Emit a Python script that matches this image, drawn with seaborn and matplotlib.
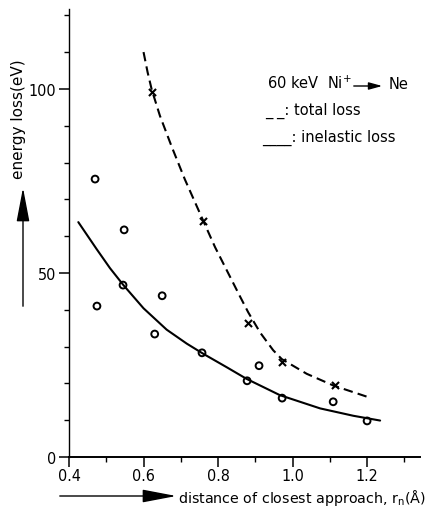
import matplotlib
matplotlib.use("Agg")
import matplotlib.pyplot as plt
import seaborn as sns

# measured points (circles: inelastic loss, crosses: total loss)
circle_x = [0.47, 0.475, 0.545, 0.548, 0.63, 0.65, 0.757, 0.878, 0.91, 0.972, 1.109, 1.20]
circle_y = [75.5, 41.0, 46.7, 61.7, 33.4, 43.8, 28.3, 20.7, 24.8, 16.0, 15.0, 9.8]
cross_x = [0.622, 0.760, 0.881, 0.972, 1.114]
cross_y = [99.2, 64.0, 36.4, 25.8, 19.6]

# curves
total_x = [0.600, 0.611, 0.622, 0.644, 0.676, 0.711, 0.761, 0.792, 0.837, 0.859,
           0.881, 0.913, 0.948, 0.971, 1.038, 1.110, 1.199]
total_y = [110.0, 104.5, 99.8, 92.7, 84.2, 75.4, 64.0, 57.0, 48.0, 43.6,
           39.3, 33.8, 29.0, 26.6, 22.6, 19.4, 16.4]
inel_x = [0.425, 0.474, 0.510, 0.546, 0.600, 0.662, 0.716, 0.761, 0.823, 0.877,
          0.966, 1.074, 1.163, 1.235]
inel_y = [63.8, 56.5, 51.3, 46.7, 40.4, 34.6, 30.8, 28.0, 24.4, 21.2,
          16.8, 13.2, 11.2, 9.9]

xticks = [0.4, 0.6, 0.8, 1.0, 1.2]
xminor = [0.5, 0.7, 0.9, 1.1, 1.3]
yticks = [0, 50, 100]
yminor = [10, 20, 30, 40, 60, 70, 80, 90, 110, 120]

sns.set_style("ticks", {"axes.edgecolor": "black", "text.color": "black",
                        "xtick.color": "black", "ytick.color": "black",
                        "axes.labelcolor": "black"})
plt.rcParams['font.family'] = ['DejaVu Sans']

W, H = 440, 510


def fx(px):
    return px / W


def fy(py):
    return 1 - py / H


fig = plt.figure(figsize=(4.4, 5.1), dpi=100)
ax = fig.add_axes([fx(69), fy(458), (420 - 69) / W, (458 - 10) / H])

sns.lineplot(x=total_x, y=total_y, ax=ax, color='black', lw=1.5,
             linestyle=(0, (4.5, 2.5)))
sns.lineplot(x=inel_x, y=inel_y, ax=ax, color='black', lw=1.5)
sns.scatterplot(x=circle_x, y=circle_y, ax=ax, marker='o', s=24,
                facecolor='none', edgecolor='black', linewidth=1.4)
sns.scatterplot(x=cross_x, y=cross_y, ax=ax, marker='x', s=26,
                color='black', linewidth=1.5)

ax.set_xlim(0.4, 1.342)
ax.set_ylim(0, 121.7)
ax.set_xticks(xticks)
ax.set_xticks(xminor, minor=True)
ax.set_yticks(yticks)
ax.set_yticks(yminor, minor=True)
ax.set_xticklabels([f"{v:.1f}" for v in xticks], fontsize=11.5, fontstretch='condensed')
ax.set_yticklabels([str(v) for v in yticks], fontsize=11.5, fontstretch='condensed')

for s in ['top', 'right']:
    ax.spines[s].set_visible(False)
ax.spines['left'].set_linewidth(1.0)
ax.spines['bottom'].set_linewidth(1.4)
ax.tick_params(axis='x', which='major', direction='out', length=7, width=1.1, pad=1)
ax.tick_params(axis='x', which='minor', direction='out', length=3.5, width=1.0)
ax.tick_params(axis='y', which='major', direction='out', length=7, width=1.1, pad=2)
ax.tick_params(axis='y', which='minor', direction='out', length=3.5, width=1.0)

# legend-like annotation block
fig.text(fx(267), fy(89), r"60 keV  Ni$^{\mathregular{+}}$", fontsize=10.5,
         ha='left', va='baseline')
ax.annotate('', xy=(fx(385), fy(87)), xytext=(fx(351), fy(87)),
            xycoords='figure fraction', textcoords='figure fraction',
            arrowprops=dict(arrowstyle='-|>,head_length=0.8,head_width=0.22',
                            color='black', lw=1.0, mutation_scale=10))
fig.text(fx(389), fy(89), "Ne", fontsize=10.5, ha='left', va='baseline')
fig.text(fx(265), fy(115), "_ _: total loss", fontsize=10.5,
         ha='left', va='baseline')
fig.text(fx(262), fy(142), "____: inelastic loss", fontsize=10.5,
         ha='left', va='baseline')

# axis labels with arrows
fig.text(fx(19), fy(119), "energy loss(eV)", fontsize=11, rotation=90,
         ha='center', va='center')
ax.annotate('', xy=(fx(23), fy(186)), xytext=(fx(23), fy(310)),
            xycoords='figure fraction', textcoords='figure fraction',
            arrowprops=dict(arrowstyle='-|>,head_length=1.05,head_width=0.2',
                            color='black', lw=1.0, mutation_scale=20))
fig.text(fx(178), fy(503), r"distance of closest approach, r$_\mathregular{n}$(Å)",
         fontsize=10.3, ha='left', va='baseline')
ax.annotate('', xy=(fx(179), fy(497)), xytext=(fx(57), fy(497)),
            xycoords='figure fraction', textcoords='figure fraction',
            arrowprops=dict(arrowstyle='-|>,head_length=1.05,head_width=0.2',
                            color='black', lw=1.0, mutation_scale=20))

fig.savefig("out.png", dpi=100)
